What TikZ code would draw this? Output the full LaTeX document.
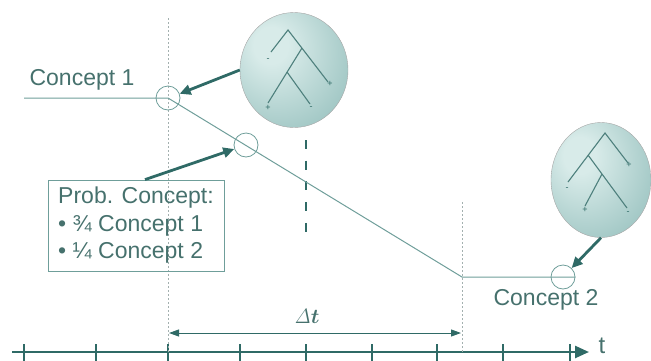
\documentclass[tikz,border=0pt]{standalone}
\usepackage[no-math]{fontspec}
\setmainfont{Liberation Sans}
\usepackage{bm}
\usetikzlibrary{arrows.meta,shapes.geometric}
\definecolor{txt}{HTML}{46716D}
\definecolor{linec}{HTML}{6F9E9A}
\definecolor{dots}{HTML}{A3B0AF}
\definecolor{dark}{HTML}{2F6A66}
\definecolor{tlight}{HTML}{D8EBE9}
\definecolor{tdark}{HTML}{6AA3A0}
\pgfdeclareradialshading{treeball}{\pgfpoint{-12bp}{12bp}}{color(0bp)=(tlight); color(8bp)=(tlight); color(62bp)=(tdark); color(75bp)=(tdark)}

\begin{document}
\begin{tikzpicture}[x=1pt,y=-1pt,
  lab/.style={text=txt,font=\fontsize{23}{27.5}\selectfont},
  ring/.style={draw=linec,circle,minimum size=24pt,inner sep=0pt,line width=0.8pt},
  ball/.style={draw=gray!70,ellipse,shading=treeball,inner sep=0pt,minimum height=115pt},
  fat/.style={draw=dark,line width=2.8pt,-{Triangle[length=11pt,width=10pt]}},
  twig/.style={draw=dark!85,line width=1.1pt},
  sign/.style={text=dark,font=\fontsize{9}{9}\selectfont,inner sep=0pt}]
\useasboundingbox (0,0) rectangle (651,360);
% time axis
\draw[dark,line width=2.5pt,-{Triangle[length=14pt,width=12pt]}] (12,352) -- (589,352);
\foreach \x in {24,96,168,240,306,372,437,503,570}
  \draw[dark,line width=1.2pt] (\x,344) -- (\x,362);
\node[lab,font=\fontsize{24}{24}\selectfont,inner sep=0pt] (t) at (602,346) {t};
% time marks
\draw[dots,line width=0.8pt,dash pattern=on 2pt off 2pt] (168,18) -- (168,352);
\draw[dots,line width=0.8pt,dash pattern=on 2pt off 2pt] (462,202) -- (462,352);
\coordinate (d1) at (169,333);
\coordinate (d2) at (461,333);
\draw[dark,line width=0.9pt,{Triangle[length=10pt,width=7pt]}-{Triangle[length=10pt,width=7pt]}] (d1) -- (d2);
\node[text=txt,font=\fontsize{22}{22}\selectfont] (dt) at (307,316) {$\mathit{\Delta}\bm{t}$};
% middle marker
\draw[dark,line width=2.5pt,dash pattern=on 9pt off 11.7pt] (306,140) -- (306,232);
% concept drift
\node[ring] (c1) at (168,98) {};
\node[ring] (c2) at (246,145) {};
\node[ring] (c3) at (563,277) {};
\coordinate (k0) at (24,98);
\coordinate (k1) at (462,277);
\draw[linec,line width=1pt] (k0) -- (c1.center) -- (k1) -- (c3.east);
\node[lab] (n1) at (82,80) {Concept 1};
\node[lab] (n2) at (546,300) {Concept 2};
\node[lab,draw=linec,line width=0.8pt,minimum width=176pt,minimum height=91pt,align=left] (box) at (136,225.5)
  {Prob. Concept:\\• ¾ Concept 1\\• ¼ Concept 2};
% trees
\node[ball,minimum width=108pt] (tree1) at (294,70) {};
\node[ball,minimum width=100pt] (tree2) at (601,180) {};
\draw[twig] (271,52) -- (288,30) -- (328,82);
\draw[twig] (302,48) -- (268,103);
\draw[twig] (287,72) -- (310,104);
\node[sign] (s1) at (268,60) {-};
\node[sign] (s2) at (330,84) {+};
\node[sign] (s3) at (268,108) {+};
\node[sign] (s4) at (311,108) {-};
\draw[twig] (568,182) -- (605,133) -- (628,163);
\draw[twig] (588,155) -- (627,208);
\draw[twig] (602,174) -- (585,206);
\node[sign] (s5) at (629,165) {+};
\node[sign] (s6) at (567,189) {-};
\node[sign] (s7) at (628,213) {-};
\node[sign] (s8) at (585,210) {+};
% pointers
\draw[fat] (tree1.west) -- (c1.20);
\draw[fat] ([xshift=9pt]box.north) -- (c2);
\draw[fat] (tree2.south) -- (c3);
\end{tikzpicture}
\end{document}
